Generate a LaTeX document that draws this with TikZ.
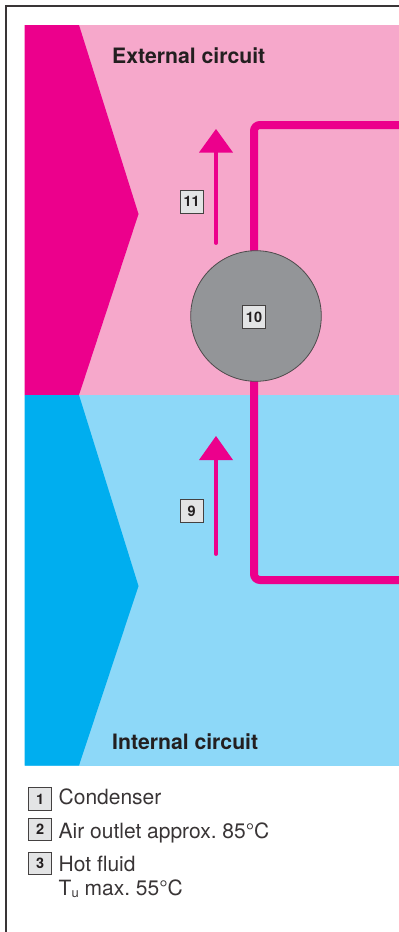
\documentclass[tikz,border=0pt]{standalone}
\usepackage{fontspec}
\usetikzlibrary{backgrounds}
\setmainfont{TeX Gyre Heros}
\definecolor{mag}{HTML}{EC008C}
\definecolor{lpink}{HTML}{F6A8CB}
\definecolor{cyn}{HTML}{00AEEF}
\definecolor{lblue}{HTML}{8DD8F8}
\definecolor{gry}{HTML}{939598}
\definecolor{boxf}{HTML}{E3E4E5}
\definecolor{ink}{HTML}{231F20}
\tikzset{
  numbox/.style={draw=ink!85,line width=1pt,fill=boxf,minimum size=22.6pt,inner sep=0pt,text=ink,font=\fontsize{14.5}{14.5}\selectfont\bfseries},
  title/.style={anchor=base west,inner sep=0pt,text=ink,font=\fontsize{21.2}{24}\selectfont\bfseries},
  legend/.style={anchor=base west,inner sep=0pt,text=ink!90,font=\frenchspacing\fontsize{21}{24}\selectfont},
  pipe/.style={draw=mag,line width=8pt,rounded corners=6pt},
  flow/.style={draw=mag,line width=3.8pt,line cap=round},
  flowhead/.style={fill=mag,draw=none},
}
\begin{document}
\begin{tikzpicture}[x=1pt,y=-1pt]
\useasboundingbox (0,0) rectangle (399,932);
\coordinate (pipeT) at (399,125);
\coordinate (pipeB) at (399,580);
\coordinate (cornerT) at (254,125);
\coordinate (cornerB) at (254,580);
\coordinate (a1s) at (216,243);
\coordinate (a1e) at (216,152);
\coordinate (a2s) at (216,554);
\coordinate (a2e) at (216,460);
% pump
\node[circle,draw=ink!80,line width=0.8pt,fill=gry,minimum size=130.6pt,inner sep=0pt] (pump) at (256,316) {};
\begin{pgfonlayer}{background}
\draw[ink!90,line width=2pt] (6.3,932) -- (6.3,6.3) -- (399,6.3);
\fill[lpink] (24.5,25) rectangle (399,395);
\fill[mag] (24.5,25) -- (79,25) -- (138.5,214) -- (79,395) -- (24.5,395) -- cycle;
\fill[lblue] (24.5,395) rectangle (399,765.5);
\fill[cyn] (24.5,395) -- (79,395) -- (138.5,586) -- (79,765.5) -- (24.5,765.5) -- cycle;
\draw[pipe] (pump.center -| cornerT) -- (cornerT) -- (pipeT);
\draw[pipe] (pump.center -| cornerB) -- (cornerB) -- (pipeB);
\end{pgfonlayer}
% flow arrows
\draw[flow] (a1s) -- (a1e);
\fill[flowhead] (216,129) -- (233,152.5) -- (199,152.5) -- cycle;
\draw[flow] (a2s) -- (a2e);
\fill[flowhead] (216,436) -- (233,460) -- (199,460) -- cycle;
% labels
\node[title] (ext) at (112,63) {External circuit};
\node[title] (int) at (112,749) {Internal circuit};
\node[numbox] (n11) at (191.7,201.8) {11};
\node[numbox] (n10) at (254,317) {10};
\node[numbox] (n9) at (191.7,511) {9};
\node[numbox] (k1) at (40.2,799) {1};
\node[numbox] (k2) at (40.2,829.3) {2};
\node[numbox] (k3) at (40.2,863.3) {3};
\node[legend] (t1) at (58.5,804) {Condenser};
\node[legend] (t2) at (58.5,838) {Air outlet approx. 85°C};
\node[legend] (t3) at (58.5,871.5) {Hot fluid};
\node[legend] (t4) at (58.5,895) {T\raisebox{-2pt}{\fontsize{13}{13}\selectfont u} max. 55°C};
\end{tikzpicture}
\end{document}
